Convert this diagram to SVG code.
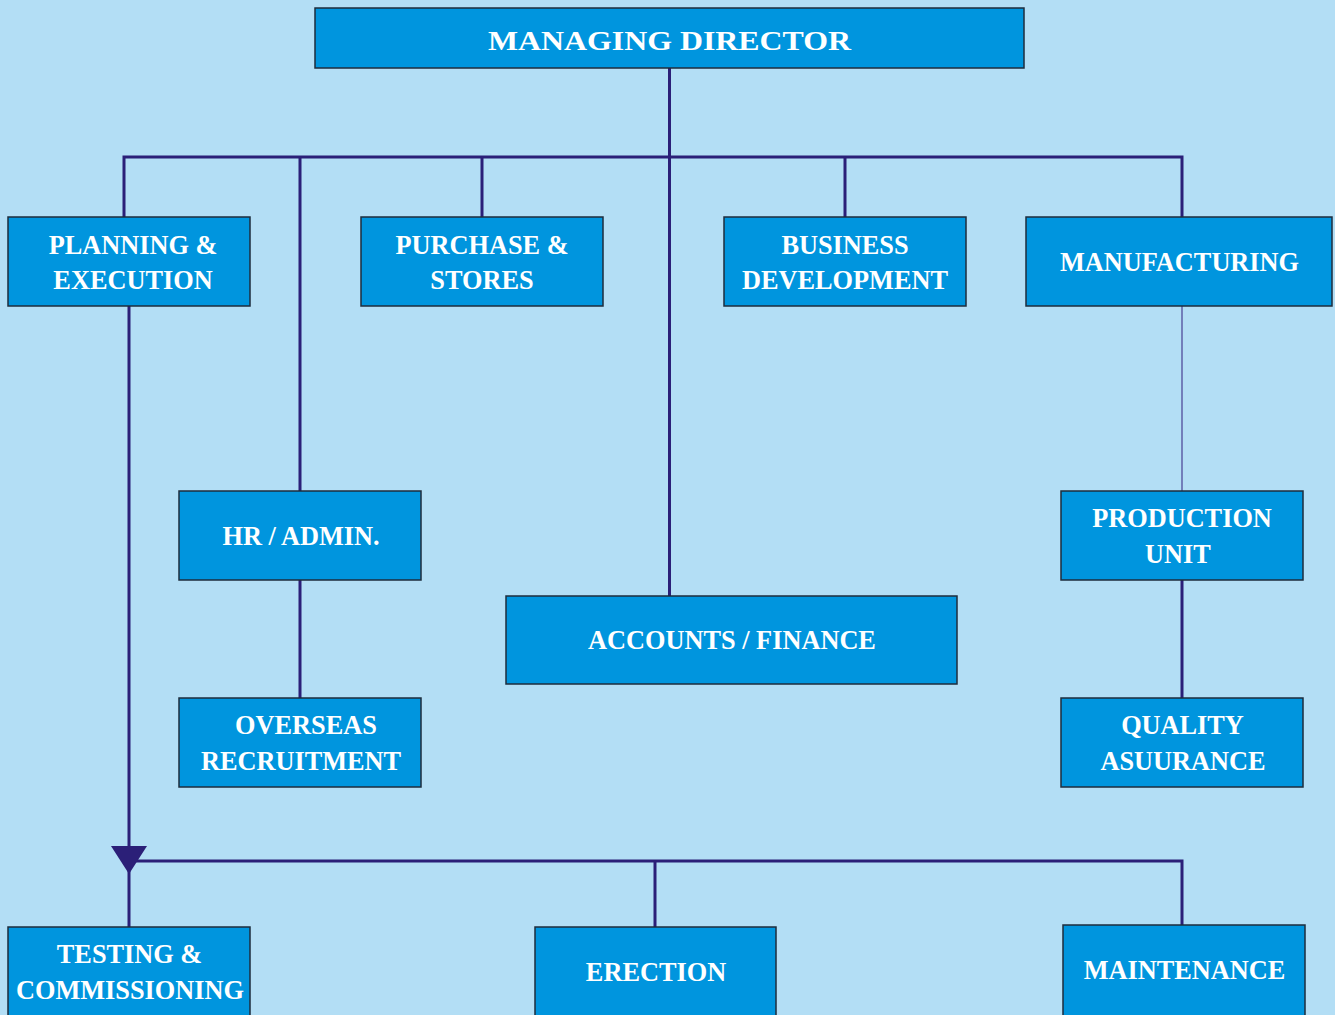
<svg xmlns="http://www.w3.org/2000/svg" width="1335" height="1015" viewBox="0 0 1335 1015">
<style>
.box{fill:#0095de;stroke:#1e2d3c;stroke-width:1.5}
.t{font-family:"Liberation Serif","Times New Roman",serif;font-weight:bold;font-size:26.3px;fill:#ffffff;text-anchor:middle}
.ln{fill:none;stroke:#2b1f78;stroke-width:3}
.thin{fill:none;stroke:#5e5fa6;stroke-width:1.5}
</style>
<rect width="1335" height="1015" fill="#b3def5"/>
<g id="connectors">
<path class="ln" d="M669.5 68 V596"/>
<path class="ln" d="M124 217 V157 H1182 V217"/>
<path class="ln" d="M300 157 V491"/>
<path class="ln" d="M482 157 V217"/>
<path class="ln" d="M845 157 V217"/>
<path class="thin" d="M1182 306 V491"/>
<path class="ln" d="M300 580 V698"/>
<path class="ln" d="M1182 580 V698"/>
<path class="ln" d="M129 306 V927"/>
<path class="ln" d="M129 861 H1182 V925"/>
<path class="ln" d="M655 861 V927"/>
<polygon points="111,846 147,846 129,874" fill="#2b1f78"/>
</g>
<g id="md"><rect class="box" x="315" y="8" width="709" height="60"/><text class="t" x="669.5" y="50" font-size="34" textLength="363" lengthAdjust="spacingAndGlyphs">MANAGING DIRECTOR</text></g>
<g id="planning"><rect class="box" x="8" y="217" width="242" height="89"/><text class="t" x="133" y="254">PLANNING &amp;</text><text class="t" x="133" y="289">EXECUTION</text></g>
<g id="purchase"><rect class="box" x="361" y="217" width="242" height="89"/><text class="t" x="482" y="254">PURCHASE &amp;</text><text class="t" x="482" y="289">STORES</text></g>
<g id="business"><rect class="box" x="724" y="217" width="242" height="89"/><text class="t" x="845" y="254">BUSINESS</text><text class="t" x="845" y="289">DEVELOPMENT</text></g>
<g id="manufacturing"><rect class="box" x="1026" y="217" width="306" height="89"/><text class="t" x="1179.5" y="271">MANUFACTURING</text></g>
<g id="hr"><rect class="box" x="179" y="491" width="242" height="89"/><text class="t" x="301" y="545">HR / ADMIN.</text></g>
<g id="overseas"><rect class="box" x="179" y="698" width="242" height="89"/><text class="t" x="306" y="734">OVERSEAS</text><text class="t" x="301" y="770">RECRUITMENT</text></g>
<g id="accounts"><rect class="box" x="506" y="596" width="451" height="88"/><text class="t" x="732" y="649">ACCOUNTS / FINANCE</text></g>
<g id="production"><rect class="box" x="1061" y="491" width="242" height="89"/><text class="t" x="1182" y="527">PRODUCTION</text><text class="t" x="1178" y="563">UNIT</text></g>
<g id="quality"><rect class="box" x="1061" y="698" width="242" height="89"/><text class="t" x="1182.5" y="734">QUALITY</text><text class="t" x="1183" y="770">ASUURANCE</text></g>
<g id="testing"><rect class="box" x="8" y="927" width="242" height="100"/><text class="t" x="129.5" y="963">TESTING &amp;</text><text class="t" x="130" y="999">COMMISSIONING</text></g>
<g id="erection"><rect class="box" x="535" y="927" width="241" height="100"/><text class="t" x="656" y="981">ERECTION</text></g>
<g id="maintenance"><rect class="box" x="1063" y="925" width="242" height="100"/><text class="t" x="1184.5" y="979">MAINTENANCE</text></g>
</svg>
